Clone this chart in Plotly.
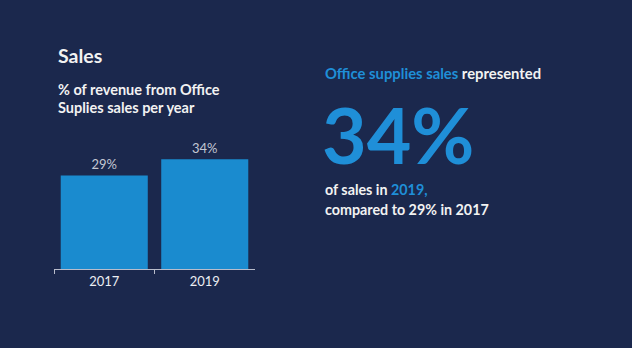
import plotly.graph_objects as go

years = ["2017", "2019"]
share = [29, 34]
labels = ["29%", "34%"]

W, H = 632, 348
BG = "#1b284d"
BAR = "#1a8bcf"
HL = "#1f8fd8"
FONT = "Lato"

def px(x):
    return x / W

def py(y):
    return 1 - y / H

fig = go.Figure()
fig.add_trace(go.Bar(
    x=years, y=share, text=labels, textposition="outside",
    textfont=dict(color="#c3c7d3", size=13, family=FONT),
    marker=dict(color=BAR, line=dict(width=0)),
    cliponaxis=False, hoverinfo="skip",
))

fig.update_layout(
    width=W, height=H, margin=dict(l=0, r=0, t=0, b=0),
    paper_bgcolor=BG, plot_bgcolor=BG, showlegend=False,
    bargap=0.134,
    font=dict(family=FONT, color="#eeeeee"),
    xaxis=dict(domain=[px(54), px(255)], showline=True, linecolor="#b8bccb", linewidth=1,
               ticks="outside", tickson="boundaries", ticklen=4, tickcolor="#b8bccb",
               tickfont=dict(size=13, color="#eceef3", family=FONT), showgrid=False,
               fixedrange=True),
    yaxis=dict(domain=[py(269), py(140)], range=[0, 40], visible=False, showgrid=False,
               fixedrange=True),
)

anns = [
    dict(text="<b>Sales</b>", x=px(56), y=py(55), size=19.5, color="#f2f2f2"),
    dict(text="<b>% of revenue from Office</b>", x=px(56), y=py(89), size=14.5, color="#f2f2f2"),
    dict(text="<b>Suplies sales per year</b>", x=px(56), y=py(108), size=14.5, color="#f2f2f2"),
    dict(text=f"<b><span style='color:{HL}'>Office supplies sales</span> represented</b>",
         x=px(323), y=py(73), size=14.8, color="#f2f2f2"),
    dict(text="<b>34%</b>", x=px(320), y=py(134), size=77, color=HL),
    dict(text=f"<b>of sales in <span style='color:{HL}'>2019,</span></b>",
         x=px(323), y=py(189), size=14.3, color="#f2f2f2"),
    dict(text="<b>compared to 29% in 2017</b>", x=px(323), y=py(209), size=14.3, color="#f2f2f2"),
]
for a in anns:
    fig.add_annotation(text=a["text"], x=a["x"], y=a["y"], xref="paper", yref="paper",
                       xanchor="left", yanchor="middle", showarrow=False,
                       font=dict(size=a["size"], color=a["color"], family=FONT))

fig.write_html("out.html")
